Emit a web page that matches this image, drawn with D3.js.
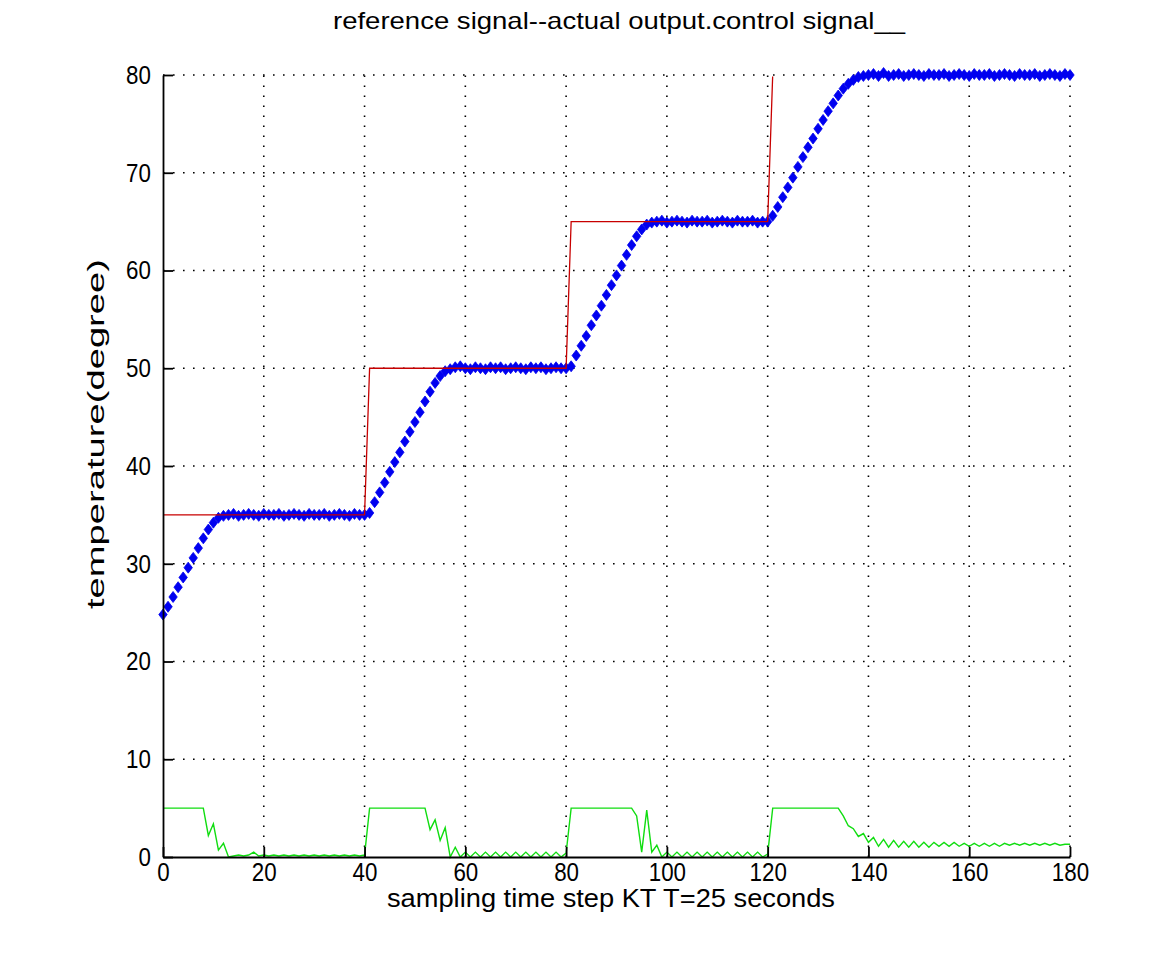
<!DOCTYPE html>
<html>
<head>
<meta charset="utf-8">
<script src="https://cdn.jsdelivr.net/npm/d3@7"></script>
<style>
body { margin: 0; background: #fff; }
text { font-family: "Liberation Sans", Arial, sans-serif; fill: #000; }
</style>
</head>
<body>
<div id="chart"></div>
<script>
// sampling steps k = 0..180
let xTicks = [0, 20, 40, 60, 80, 100, 120, 140, 160, 180];
let yTicks = [0, 10, 20, 30, 40, 50, 60, 70, 80];

// reference signal (red)
let reference = [
	35,35,35,35,35,35,35,35,35,35,35,35,35,35,35,35,35,35,35,35,35,35,35,35,35,35,35,35,35,35,35,35,35,35,35,35,35,35,35,35,35,
	50,50,50,50,50,50,50,50,50,50,50,50,50,50,50,50,50,50,50,50,50,50,50,50,50,50,50,50,50,50,50,50,50,50,50,50,50,50,50,50,
	65,65,65,65,65,65,65,65,65,65,65,65,65,65,65,65,65,65,65,65,65,65,65,65,65,65,65,65,65,65,65,65,65,65,65,65,65,65,65,65,
	80,80,80,80,80,80,80,80,80,80,80,80,80,80,80,80,80,80,80,80,80,80,80,80,80,80,80,80,80,80,80,80,80,80,80,80,80,80,80,80,
	80,80,80,80,80,80,80,80,80,80,80,80,80,80,80,80,80,80,80,80
];

// actual output (blue markers)
let actual = [
	24.8, 25.6, 26.6, 27.6, 28.6, 29.6, 30.6, 31.6, 32.6, 33.5, 34.2, 34.7, 34.9,
	35.0, 35.1, 34.9, 35.0, 35.1, 35.0, 34.9, 35.1, 35.0, 35.0, 35.1, 34.9, 35.0, 35.1, 35.0, 34.9, 35.1, 35.0, 35.0, 35.1, 34.9, 35.0, 35.1, 35.0, 34.9, 35.1, 35.0, 35.0,
	35.2, 36.3, 37.3, 38.3, 39.4, 40.4, 41.4, 42.5, 43.5, 44.5, 45.5, 46.6, 47.6, 48.5, 49.2, 49.7, 49.9,
	50.1, 50.2, 50.0, 49.9, 50.1, 50.0, 49.9, 50.1, 50.0, 50.1, 49.9, 50.0, 50.1, 50.0, 49.9, 50.1, 50.0, 50.1, 49.9, 50.0, 50.1, 50.0, 50.0,
	50.2, 51.3, 52.3, 53.3, 54.4, 55.4, 56.4, 57.5, 58.5, 59.5, 60.5, 61.6, 62.6, 63.5, 64.2, 64.7, 64.9,
	65.0, 65.1, 64.9, 65.0, 65.1, 65.0, 64.9, 65.1, 65.0, 65.0, 65.1, 64.9, 65.0, 65.1, 65.0, 64.9, 65.1, 65.0, 65.0, 65.1, 64.9, 65.0, 65.0,
	65.6, 66.5, 67.5, 68.5, 69.5, 70.6, 71.6, 72.6, 73.5, 74.5, 75.4, 76.3, 77.1, 77.9, 78.6, 79.1, 79.5, 79.8, 79.9,
	80.0, 80.1, 79.9, 80.2, 79.9, 80.0, 80.1, 79.9, 80.0, 80.1, 80.0, 79.9, 80.1, 80.0, 80.0, 80.1, 79.9, 80.0, 80.1, 80.0,
	79.9, 80.1, 80.0, 80.0, 80.1, 79.9, 80.0, 80.1, 80.0, 79.9, 80.1, 80.0, 80.0, 80.1, 79.9, 80.0, 80.1, 80.0, 79.9, 80.1, 80.0
];

// control signal (green)
let control = [
	5, 5, 5, 5, 5, 5, 5, 5, 5,
	2.2, 3.4, 0.7, 1.4, 0.0, 0.1,
	0.2, 0.1, 0.2, 0.5, 0.1, 0.2, 0.1, 0.2, 0.1, 0.2, 0.1, 0.2, 0.1, 0.2, 0.1, 0.2, 0.1, 0.2, 0.1, 0.2, 0.1, 0.2, 0.1, 0.2, 0.1, 0.2,
	5, 5, 5, 5, 5, 5, 5, 5, 5, 5, 5, 5,
	2.8, 3.8, 1.7, 3.0, 0.0, 1.0, 0.0,
	0.5, 0, 0.5, 0, 0.5, 0, 0.5, 0, 0.5, 0, 0.5, 0, 0.5, 0, 0.5, 0, 0.5, 0, 0.5, 0, 0.4,
	5, 5, 5, 5, 5, 5, 5, 5, 5, 5, 5, 5, 5,
	4.2, 0.5, 4.8, 0.5, 1.2, 0.0,
	0.5, 0, 0.5, 0, 0.5, 0, 0.5, 0, 0.5, 0, 0.5, 0, 0.5, 0, 0.5, 0, 0.5, 0, 0.5, 0, 0.3,
	5, 5, 5, 5, 5, 5, 5, 5, 5, 5, 5, 5, 5, 5,
	4.2, 3.2, 2.9, 2.1, 2.4, 1.5, 2.0, 1.1, 1.8, 1.0, 1.7, 1.0, 1.6, 1.0, 1.6, 1.0, 1.5, 1.0, 1.5, 1.1,
	1.5, 1.1, 1.5, 1.1, 1.4, 1.1, 1.4, 1.1, 1.4, 1.1, 1.4, 1.1, 1.4, 1.2, 1.4, 1.2, 1.4, 1.2, 1.4, 1.2,
	1.4, 1.2, 1.4, 1.2, 1.3, 1.3
];

let steps = d3.range(reference.length);

function graph(id) {
	let width = 1173, height = 963;
	let left = 163, right = 1070, top = 75, bottom = 857;

	let svg = d3.select(id).append("svg")
		.attr("width", width)
		.attr("height", height)
		.style("background", "#fff");

	let x = d3.scaleLinear().domain([0, 180]).range([left, right]);
	let y = d3.scaleLinear().domain([0, 80]).range([bottom, top]);

	// dotted grid
	let grid = svg.append("g")
		.attr("stroke", "#000")
		.attr("stroke-width", 1.6)
		.attr("stroke-dasharray", "1.6,8.4");
	grid.selectAll("line.gx")
		.data(xTicks.filter((d) => d > 0)).enter()
		.append("line")
		.attr("x1", (d) => x(d)).attr("x2", (d) => x(d))
		.attr("y1", bottom).attr("y2", top);
	grid.selectAll("line.gy")
		.data(yTicks.filter((d) => d > 0)).enter()
		.append("line")
		.attr("x1", left).attr("x2", right)
		.attr("y1", (d) => y(d)).attr("y2", (d) => y(d));

	svg.append("clipPath").attr("id", "refclip")
		.append("rect")
		.attr("x", left).attr("y", top + 1.5)
		.attr("width", right - left + 2).attr("height", bottom - top);

	// control signal
	svg.append("path")
		.datum(steps)
		.attr("fill", "none")
		.attr("stroke", "#10dd10")
		.attr("stroke-width", 1.4)
		.attr("d", d3.line().x((d) => x(d)).y((d) => y(control[d])));

	// actual output markers
	let diamond = "M0,-5.5L4.2,0L0,5.5L-4.2,0Z";
	svg.append("g").selectAll("path")
		.data(steps).enter()
		.append("path")
		.attr("transform", (d) => `translate(${x(d)},${y(actual[d])})`)
		.attr("d", diamond)
		.attr("fill", "#0000f0")
		.attr("stroke", "#0000f0")
		.attr("stroke-width", 0.8);

	// reference signal
	svg.append("path")
		.datum(steps)
		.attr("clip-path", "url(#refclip)")
		.attr("fill", "none")
		.attr("stroke", "#c80000")
		.attr("stroke-width", 1.3)
		.attr("d", d3.line().x((d) => x(d)).y((d) => y(reference[d])));

	// axes
	let xAxis = d3.axisBottom(x).tickValues(xTicks).tickSizeInner(-10).tickSizeOuter(0).tickPadding(6);
	let yAxis = d3.axisLeft(y).tickValues(yTicks).tickSizeInner(-10).tickSizeOuter(0).tickPadding(14);

	let gx = svg.append("g").attr("transform", `translate(0,${bottom})`).call(xAxis);
	let gy = svg.append("g").attr("transform", `translate(${left},0)`).call(yAxis);
	[gx, gy].forEach((g) => {
		g.select(".domain").attr("stroke", "#000").attr("stroke-width", 1.8);
		g.selectAll(".tick line").attr("stroke", "#000").attr("stroke-width", 1.8);
		g.selectAll(".tick text")
			.style("font-family", "'Liberation Sans', Arial, sans-serif")
			.style("font-size", "26px")
			.attr("fill", "#000")
			.attr("transform", "scale(0.86,1)");
	});

	svg.append("text")
		.attr("x", 619).attr("y", 29)
		.attr("text-anchor", "middle")
		.attr("textLength", 572)
		.attr("lengthAdjust", "spacingAndGlyphs")
		.style("font-size", "24px")
		.text("reference signal--actual output.control signal__");

	svg.append("text")
		.attr("x", 611).attr("y", 907)
		.attr("text-anchor", "middle")
		.attr("textLength", 448)
		.attr("lengthAdjust", "spacingAndGlyphs")
		.style("font-size", "25px")
		.text("sampling time step KT T=25 seconds");

	svg.append("text")
		.attr("transform", "translate(104,434) rotate(-90)")
		.attr("text-anchor", "middle")
		.attr("textLength", 350)
		.attr("lengthAdjust", "spacingAndGlyphs")
		.style("font-size", "24px")
		.text("temperature(degree)");
}

graph("#chart");
</script>
</body>
</html>
